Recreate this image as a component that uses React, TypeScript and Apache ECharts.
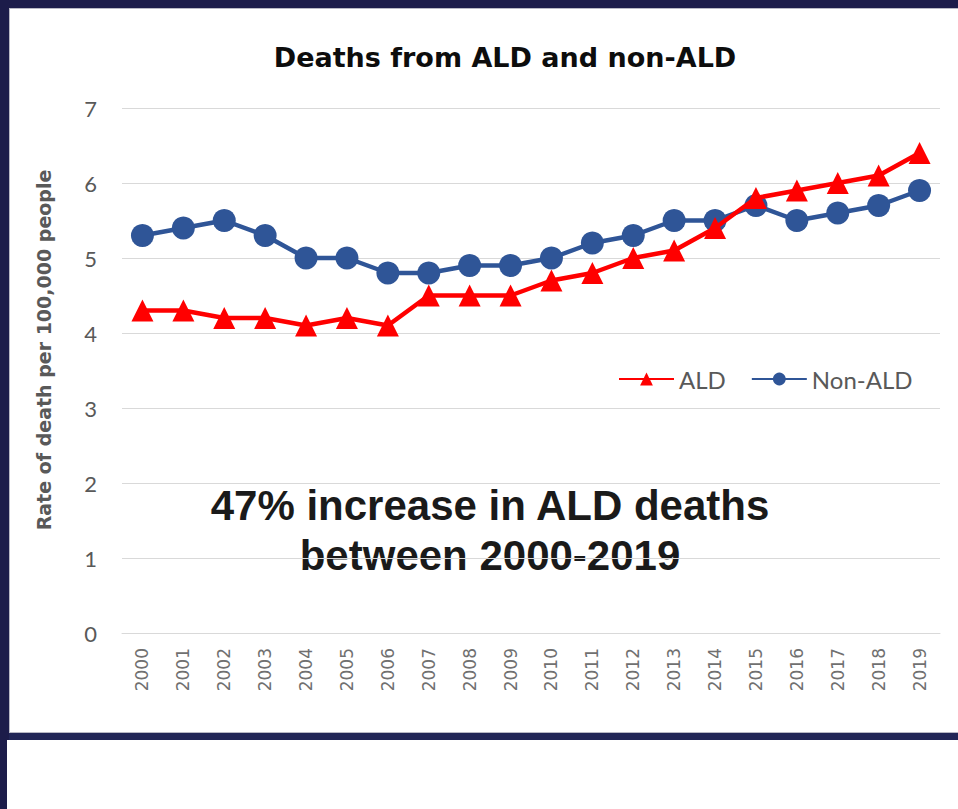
import React, { useEffect, useRef } from "react";
import * as echarts from "echarts";

const years = ["2000","2001","2002","2003","2004","2005","2006","2007","2008","2009","2010","2011","2012","2013","2014","2015","2016","2017","2018","2019"];
const aldRates = [4.3,4.3,4.2,4.2,4.1,4.2,4.1,4.5,4.5,4.5,4.7,4.8,5.0,5.1,5.4,5.8,5.9,6.0,6.1,6.4];
const nonAldRates = [5.3,5.4,5.5,5.3,5.0,5.0,4.8,4.8,4.9,4.9,5.0,5.2,5.3,5.5,5.5,5.7,5.5,5.6,5.7,5.9];
const titleText = "Deaths from ALD and non-ALD";
const yAxisName = "Rate of death per 100,000 people";
const noteLines = ["47% increase in ALD deaths", "between 2000-2019"];

export default function App() {
  const ref = useRef<HTMLDivElement>(null);
  useEffect(() => {
    if (!ref.current) return;
    const chart = echarts.init(ref.current, undefined, { renderer: "svg" });
    chart.setOption({
      animation: false,
      title: {
        text: titleText,
        left: 500,
        textAlign: "center",
        top: 39,
        textStyle: { fontFamily: "DejaVu Sans", fontWeight: "bold", fontSize: 27, color: "#0d0d0d" },
      },
      grid: { left: 122, right: 18, top: 108, bottom: 176, containLabel: false },
      legend: {
        left: 613,
        top: 362,
        itemWidth: 55,
        itemHeight: 16,
        itemGap: 25,
        textStyle: { fontFamily: "Lato", fontSize: 24, color: "#595959" },
        data: ["ALD", "Non-ALD"],
      },
      xAxis: {
        type: "category",
        data: years,
        boundaryGap: true,
        axisLine: { show: true, lineStyle: { color: "#d9d9d9", width: 1 } },
        axisTick: { show: false },
        axisLabel: { rotate: 90, margin: 15, fontFamily: "DejaVu Sans", fontSize: 17, color: "#707070" },
      },
      yAxis: {
        type: "value",
        min: 0,
        max: 7,
        interval: 1,
        axisLine: { show: false },
        axisTick: { show: false },
        axisLabel: { margin: 25, fontFamily: "Lato", fontSize: 22, color: "#595959" },
        splitLine: { lineStyle: { color: "#d9d9d9", width: 1 } },
      },
      series: [
        {
          name: "ALD",
          type: "line",
          data: aldRates,
          symbol: "triangle",
          symbolSize: 22,
          lineStyle: { color: "#ff0000", width: 4.5 },
          itemStyle: { color: "#ff0000" },
          z: 3,
        },
        {
          name: "Non-ALD",
          type: "line",
          data: nonAldRates,
          symbol: "circle",
          symbolSize: 23,
          lineStyle: { color: "#2f5597", width: 4.5 },
          itemStyle: { color: "#2f5597" },
          z: 2,
        },
      ],
      graphic: [
        {
          type: "text",
          x: 44,
          y: 350,
          rotation: Math.PI / 2,
          style: {
            text: yAxisName,
            align: "center",
            verticalAlign: "middle",
            fontFamily: "DejaVu Sans",
            fontWeight: "bold",
            fontSize: 19,
            fill: "#595959",
          },
        },
        {
          type: "text",
          x: 490,
          y: 505,
          style: {
            text: noteLines[0],
            align: "center",
            verticalAlign: "middle",
            fontFamily: "Liberation Sans",
            fontWeight: "bold",
            fontSize: 42,
            fill: "#1a1a1a",
          },
        },
        {
          type: "text",
          x: 490,
          y: 555,
          style: {
            text: noteLines[1],
            align: "center",
            verticalAlign: "middle",
            fontFamily: "Liberation Sans",
            fontWeight: "bold",
            fontSize: 42,
            fill: "#1a1a1a",
          },
        },
      ],
    });
    return () => chart.dispose();
  }, []);

  return (
    <div style={{ position: "absolute", left: 0, top: 0, width: 958, height: 809, background: "#ffffff", overflow: "hidden" }}>
      <div style={{ position: "absolute", left: 0, top: 0, width: 958, height: 8, background: "#1c1c4a" }} />
      <div style={{ position: "absolute", left: 0, top: 0, width: 9, height: 740, background: "#1c1c4a" }} />
      <div style={{ position: "absolute", left: 0, top: 740, width: 7, height: 69, background: "#1c1c4a" }} />
      <div style={{ position: "absolute", left: 9, top: 733, width: 949, height: 7, background: "#222657" }} />
      <div style={{ position: "absolute", left: 9, top: 8, width: 949, height: 725, boxSizing: "border-box", borderLeft: "1px solid #b8b8c4", borderTop: "1px solid #b8b8c4", borderBottom: "1px solid #b8b8c4" }} />
      <div ref={ref} style={{ position: "absolute", left: 0, top: 0, width: 958, height: 809 }} />
    </div>
  );
}
